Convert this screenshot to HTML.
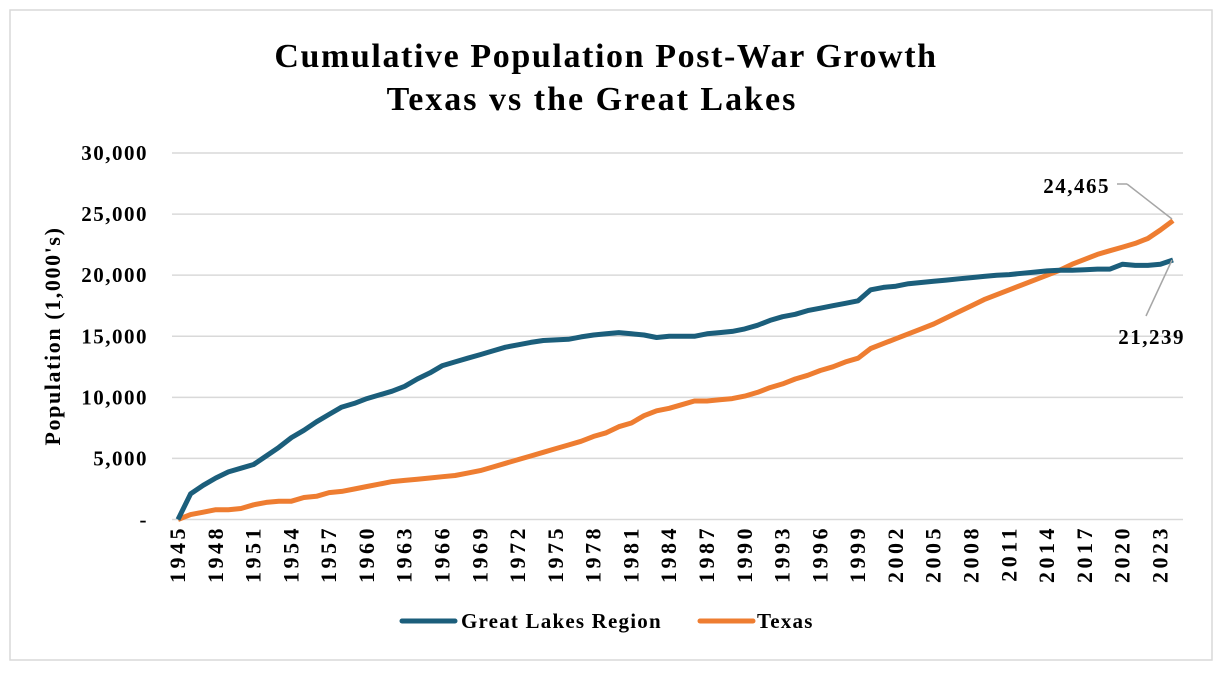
<!DOCTYPE html>
<html><head><meta charset="utf-8"><style>
body{margin:0;background:#fff;}
svg{display:block;font-family:"Liberation Serif",serif;}
</style></head><body>
<svg id="chart" width="1230" height="678">
<rect x="10" y="10" width="1202" height="650" fill="#fff" stroke="#d9d9d9" stroke-width="1.5"/>
<text x="606" y="67" text-anchor="middle" font-size="34" font-weight="bold" letter-spacing="1.6">Cumulative Population Post-War Growth</text>
<text x="592" y="110" text-anchor="middle" font-size="34" font-weight="bold" letter-spacing="2">Texas vs the Great Lakes</text>
<text transform="translate(60,336) rotate(-90)" text-anchor="middle" font-size="22" font-weight="bold" letter-spacing="1.6">Population (1,000's)</text>
<g id="grid"></g><g id="ylabels"></g><g id="xlabels"></g><g id="lines"></g>
<line x1="1117" y1="184" x2="1127" y2="184" stroke="#a6a6a6" stroke-width="1.5"/>
<line x1="1127" y1="184" x2="1172" y2="219" stroke="#a6a6a6" stroke-width="1.5"/>
<text x="1110" y="193" text-anchor="end" font-size="21" font-weight="bold" letter-spacing="1.5">24,465</text>
<line x1="1146" y1="316" x2="1172" y2="260" stroke="#a6a6a6" stroke-width="1.5"/>
<text x="1185" y="344" text-anchor="end" font-size="21" font-weight="bold" letter-spacing="1.5">21,239</text>
<g>
<line x1="402" y1="621" x2="455" y2="621" stroke="#1b5e7b" stroke-width="5" stroke-linecap="round"/>
<text x="461" y="628" font-size="21" font-weight="bold" letter-spacing="1.2">Great Lakes Region</text>
<line x1="700" y1="621" x2="753" y2="621" stroke="#ee7d31" stroke-width="5" stroke-linecap="round"/>
<text x="757" y="628" font-size="21" font-weight="bold" letter-spacing="1.2">Texas</text>
</g>
</svg>
<script>
const startYear = 1945;
const greatLakes = [0,2100,2800,3400,3900,4200,4500,5200,5900,6700,7300,8000,8600,9200,9500,9900,10200,10500,10900,11500,12000,12600,12900,13200,13500,13800,14100,14300,14500,14650,14700,14750,14950,15100,15200,15300,15200,15100,14900,15000,15000,15000,15200,15300,15400,15600,15900,16300,16600,16800,17100,17300,17500,17700,17900,18800,19000,19100,19300,19400,19500,19600,19700,19800,19900,20000,20050,20150,20250,20350,20400,20400,20450,20500,20500,20900,20800,20800,20900,21239];
const texas = [0,400,600,800,800,900,1200,1400,1500,1500,1800,1900,2200,2300,2500,2700,2900,3100,3200,3300,3400,3500,3600,3800,4000,4300,4600,4900,5200,5500,5800,6100,6400,6800,7100,7600,7900,8500,8900,9100,9400,9700,9700,9800,9900,10100,10400,10800,11100,11500,11800,12200,12500,12900,13200,14000,14400,14800,15200,15600,16000,16500,17000,17500,18000,18400,18800,19200,19600,20000,20400,20900,21300,21700,22000,22300,22600,23000,23700,24465];
const yTicks = [0,5000,10000,15000,20000,25000,30000];
const yTickLabels = ["-","5,000","10,000","15,000","20,000","25,000","30,000"];

const NS="http://www.w3.org/2000/svg";
const n = greatLakes.length;
const x0=178, x1=1173, yBase=519.5, yTop=153, yMax=30000;
const xs = i => x0 + (x1-x0)*i/(n-1);
const ys = v => yBase - (yBase-yTop)*v/yMax;
function mk(tag, attrs, parent){const e=document.createElementNS(NS,tag);for(const k in attrs)e.setAttribute(k,attrs[k]);parent.appendChild(e);return e;}
const grid=document.getElementById('grid'), yl=document.getElementById('ylabels'), xl=document.getElementById('xlabels'), lines=document.getElementById('lines');
yTicks.forEach((t,i)=>{
  const g=mk('line',{x1:172,x2:1183,y1:ys(t),y2:ys(t),stroke:'#d9d9d9','stroke-width':1.5},grid);
  
  
  const tx=mk('text',{x:148,y:ys(t)+7,'text-anchor':'end','font-size':21,'font-weight':'bold','letter-spacing':1.5},yl);
  tx.textContent=yTickLabels[i];
  
  
});
for(let i=0;i<n;i+=3){
  const x=xs(i);
  const tx=mk('text',{transform:`translate(${x+7},525) rotate(-90)`,'text-anchor':'end','font-size':22,'font-weight':'bold','letter-spacing':3.5},xl);
  tx.textContent=String(startYear+i);
  
  
}
function drawLine(arr,color,name){
  const d=arr.map((v,i)=>(i?'L':'M')+xs(i).toFixed(1)+','+ys(v).toFixed(1)).join('');
  const p=mk('path',{d:d,fill:'none',stroke:color,'stroke-width':5,'stroke-linejoin':'round'},lines);
  
  
}
drawLine(texas,'#ee7d31','texas-line');
drawLine(greatLakes,'#1b5e7b','great-lakes-line');
</script>
</body></html>
